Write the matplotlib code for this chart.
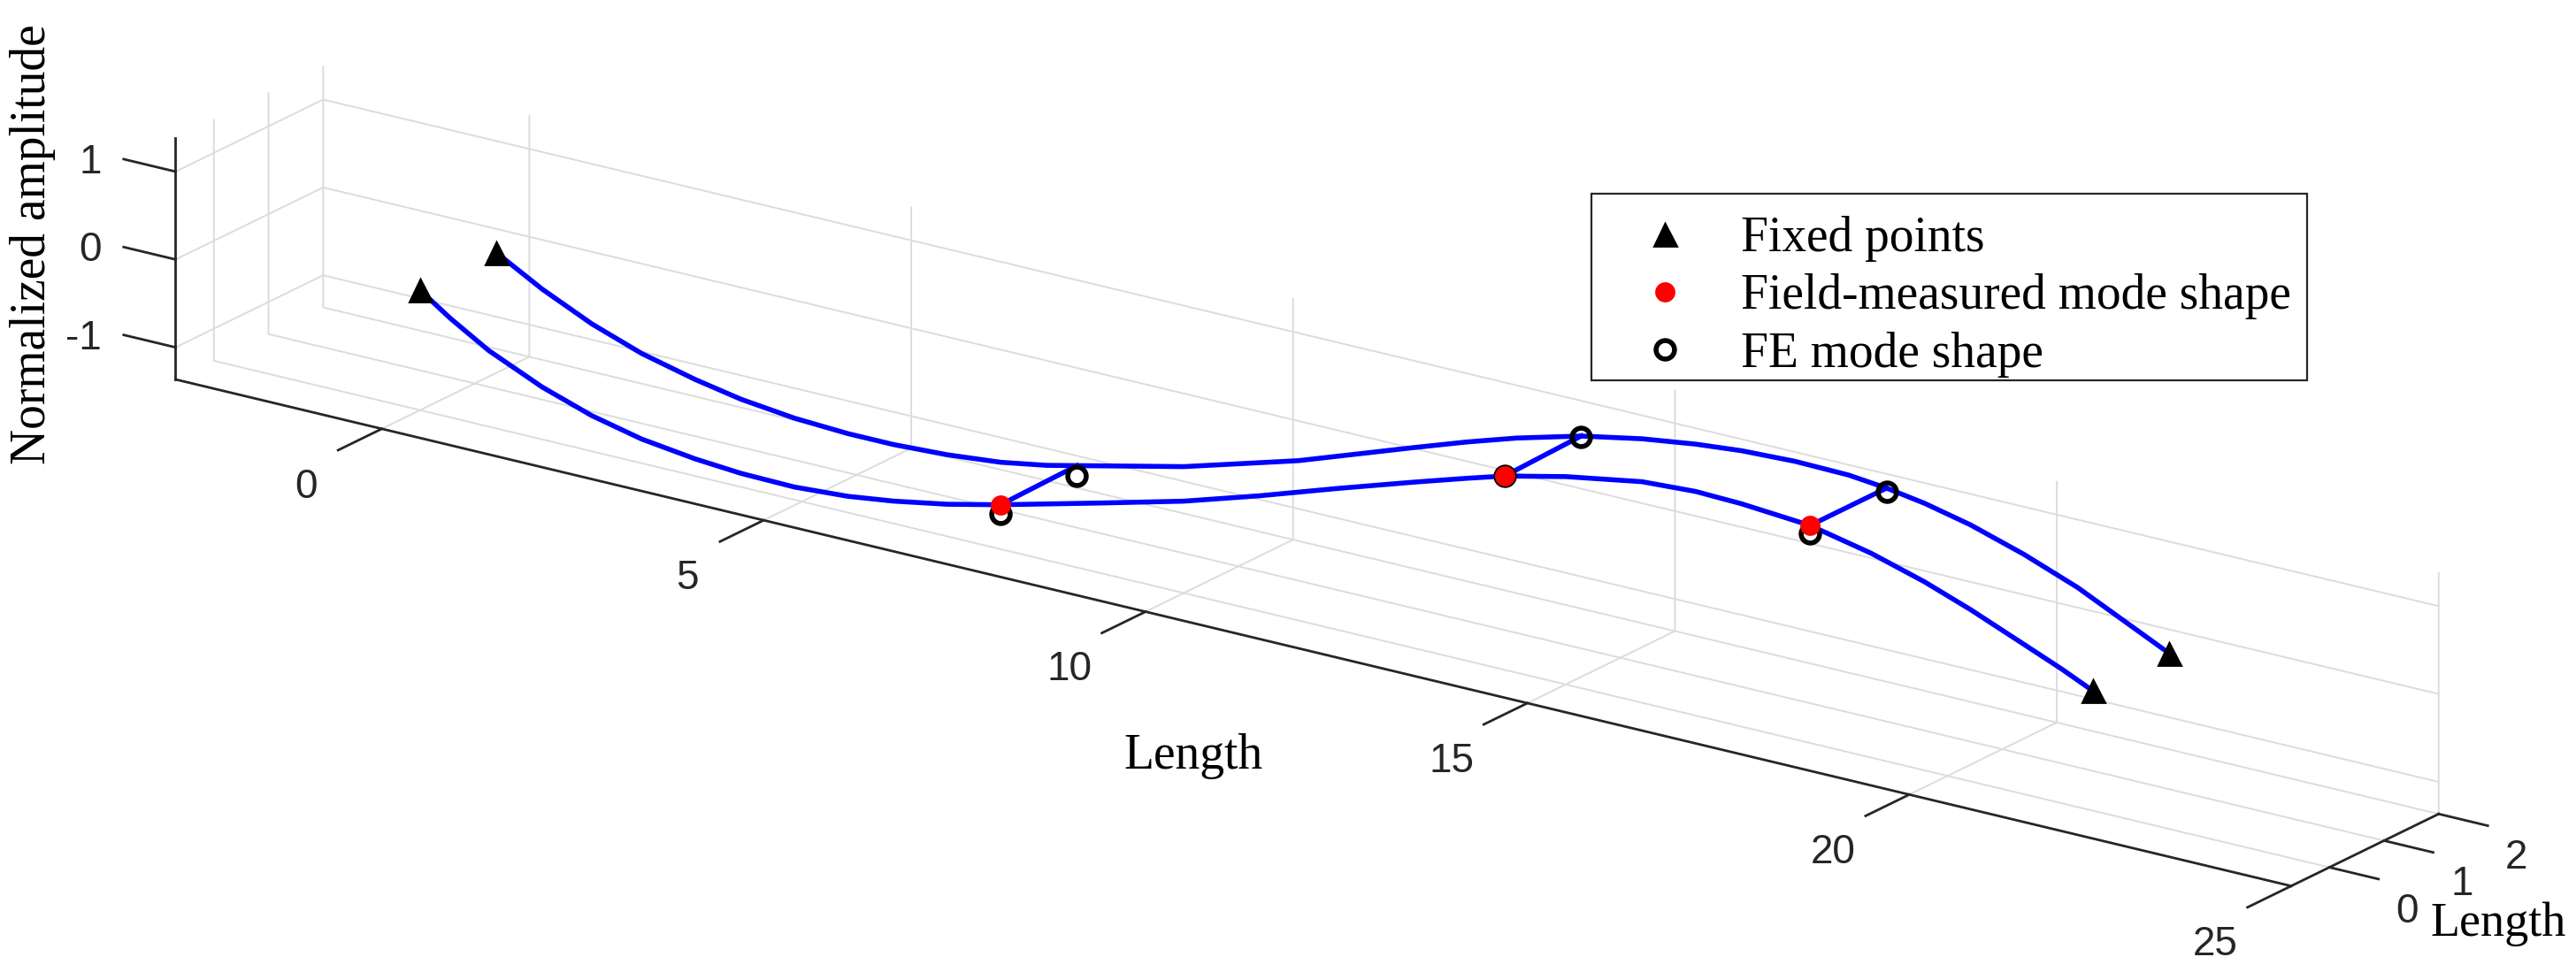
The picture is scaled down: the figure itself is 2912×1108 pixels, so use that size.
import matplotlib
matplotlib.use("Agg")
import matplotlib.pyplot as plt
from matplotlib.patches import Rectangle
from mpl_toolkits.mplot3d import proj3d

W, H, DPI = 2912, 1108, 200

# supports and sensor stations along the span
fixed_x = [0.0, 21.9]
sensor_x = [7.6, 14.2, 18.2]
line_y = [0.0, 1.4]

# mode shape values at the sensor stations (front line, back line)
meas_front = [-0.86, 0.84, 1.11]
meas_back = [-0.84, 0.87, 1.11]
fe_front = [-0.96, 0.84, 1.02]
fe_back = [-0.96, 0.86, 1.07]

# measured mode shape curves
front_x = [0.0, 0.4, 0.9, 1.6, 2.25, 2.9, 3.6, 4.2, 4.9, 5.6, 6.2, 6.9, 7.6,
           8.9, 10.0, 11.0, 12.0, 13.0, 13.7, 14.2, 15.0, 16.0, 16.7, 17.3,
           18.2, 19.0, 19.7, 20.3, 21.0, 21.5, 21.9]
front_z = [0.0, -0.24, -0.50, -0.77, -0.96, -1.09, -1.17, -1.21, -1.22, -1.18,
           -1.11, -1.00, -0.86, -0.57, -0.32, -0.05, 0.24, 0.52, 0.71, 0.84,
           1.00, 1.15, 1.185, 1.17, 1.11, 0.96, 0.78, 0.59, 0.34, 0.16, 0.0]
back_x = [0.0, 0.6, 1.25, 1.9, 2.6, 3.2, 3.9, 4.6, 5.2, 5.9, 6.6, 7.2, 7.6,
          9.0, 10.5, 12.0, 12.7, 13.35, 14.2, 15.0, 15.7, 16.3, 17.0, 17.7,
          18.2, 18.7, 19.3, 20.0, 20.7, 21.3, 21.9]
back_z = [0.0, -0.29, -0.55, -0.75, -0.90, -1.00, -1.07, -1.10, -1.10, -1.07,
          -1.01, -0.92, -0.84, -0.56, -0.18, 0.28, 0.49, 0.67, 0.87, 1.005,
          1.09, 1.14, 1.165, 1.155, 1.11, 1.04, 0.92, 0.73, 0.50, 0.25, 0.0]

x_ticks = [0, 5, 10, 15, 20, 25]
y_ticks = [0, 1, 2]
z_ticks = [-1, 0, 1]
xlim = (-2.7, 25)
ylim = (-0.7, 2)
zlim = (-1.365, 1.385)

serif = "Liberation Serif"
sans = "Liberation Sans"
dark = "#262626"
blue = "#0000ff"

plt.rcParams["grid.color"] = "#dcdcdc"
plt.rcParams["grid.linewidth"] = 0.7

fig = plt.figure(figsize=(W / DPI, H / DPI), dpi=DPI)
S0 = 1000
ax = fig.add_axes([(W - S0) / 2 / W, (H - S0) / 2 / H, S0 / W, S0 / H],
                  projection="3d", proj_type="ortho")
ax.computed_zorder = False

# curves and cross links
ax.plot(front_x, [line_y[0]] * len(front_x), front_z, color=blue, lw=2, zorder=1)
ax.plot(back_x, [line_y[1]] * len(back_x), back_z, color=blue, lw=2, zorder=1)
for i in range(len(sensor_x)):
    ax.plot([sensor_x[i]] * 2, line_y, [meas_front[i], meas_back[i]],
            color=blue, lw=2, zorder=1)

h_fe, = ax.plot(sensor_x * 2, [line_y[0]] * 3 + [line_y[1]] * 3, fe_front + fe_back,
                "o", mfc="none", mec="k", mew=2, ms=7.5, ls="none", zorder=2)
h_meas, = ax.plot(sensor_x, [line_y[0]] * 3, meas_front, "o", color="red",
                  ms=7.2, ls="none", zorder=3)
h_fix, = ax.plot(fixed_x * 2, [line_y[0]] * 2 + [line_y[1]] * 2, [0.0] * 4,
                 "^", color="k", ms=9, ls="none", zorder=3)

ax.set_xlim(xlim)
ax.set_ylim(ylim)
ax.set_zlim(zlim)
ax.set_xticks(x_ticks)
ax.set_yticks(y_ticks)
ax.set_zticks(z_ticks)
ax.set_box_aspect((10.04, 1, 1))
ax.view_init(elev=20, azim=-55)
ax.zaxis.set_ticks_position("lower")

for axis in (ax.xaxis, ax.yaxis, ax.zaxis):
    axis.set_pane_color((1, 1, 1, 0))
    axis.pane.set_edgecolor((1, 1, 1, 0))
    axis.line.set_color(dark)
    axis.line.set_linewidth(1.0)
    axis.set_tick_params(labelbottom=False, color=dark)
    axis._axinfo["tick"]["inward_factor"] = 0.0
    axis._axinfo["tick"]["linewidth"] = {True: 1.0, False: 0.5}
# negative factors turn the ticks away from the box
ax.xaxis._axinfo["tick"]["outward_factor"] = -3.7
ax.yaxis._axinfo["tick"]["outward_factor"] = -0.29
ax.zaxis._axinfo["tick"]["outward_factor"] = 0.0

# z ticks point along -x, as in the original
for t in z_ticks:
    ax.plot([xlim[0], xlim[0] - 0.68], [ylim[0]] * 2, [t, t], color=dark, lw=1.0)


# scale and shift the (square) 3D axes so the box lands where the original has it
def to_px(x, y, z):
    xs, ys, _ = proj3d.proj_transform(x, y, z, ax.get_proj())
    return ax.transData.transform((xs, ys))


fig.canvas.draw()
c_px = to_px(xlim[0], ylim[0], zlim[0])
e_px = to_px(xlim[1], ylim[0], zlim[0])
c_target = (198.5, H - 429)
e_target = (2590, H - 1001.7)
k = (e_target[0] - c_target[0]) / (e_px[0] - c_px[0])
S = S0 * k
cx = c_target[0] - k * (c_px[0] - W / 2)
cy = c_target[1] - k * (c_px[1] - H / 2)
ax.set_position([(cx - S / 2) / W, (cy - S / 2) / H, S / W, S / H])
fig.canvas.draw()


def put(x, y, z, s, ha="center"):
    px, py = to_px(x, y, z)
    fig.text(px / W, py / H, s, ha=ha, va="center", family=sans,
             fontsize=16.5, color=dark)


# tick labels, placed like the MATLAB original
for t in x_ticks:
    put(t, ylim[0] - 1.39, zlim[0] - 0.24, str(t))
for t in y_ticks:
    put(xlim[1] + 1.02, t, zlim[0] - 0.29, str(t))
for t in z_ticks:
    put(xlim[0] - 0.97, ylim[0], t - 0.1, str(t), ha="right")

fig.text(1349 / W, 1 - 855 / H, "Length", ha="center", va="center",
         family=serif, fontsize=20)
fig.text(2824 / W, 1 - 1045 / H, "Length", ha="center", va="center",
         family=serif, fontsize=19.5)
fig.text(37 / W, 1 - 276 / H, "Normalized amplitude", rotation=90,
         ha="center", va="center", family=serif, fontsize=20)

fig.legend(handles=[h_fix, h_meas, h_fe],
           labels=["Fixed points", "Field-measured mode shape", "FE mode shape"],
           loc="upper left", bbox_to_anchor=(1799 / W, 1 - 229 / H),
           frameon=False, borderpad=0.27, labelspacing=0.24, handlelength=2.46,
           handletextpad=0.32, borderaxespad=0, numpoints=1,
           prop={"family": serif, "size": 20})
# legend box drawn on its own, MATLAB pads the text unevenly
fig.patches.append(Rectangle((1799 / W, 1 - 430 / H), 809 / W, 211 / H,
                             transform=fig.transFigure, fill=False,
                             edgecolor=dark, linewidth=0.8, zorder=4))

fig.savefig("out.png", dpi=DPI)
